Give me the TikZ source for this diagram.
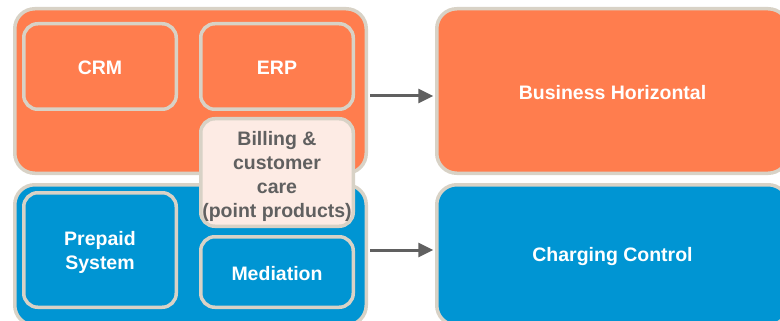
\documentclass[tikz,border=0pt]{standalone}
\usepackage{fontspec}
\setmainfont{Liberation Sans}
\usetikzlibrary{arrows.meta}
\definecolor{orng}{RGB}{255,125,78}
\definecolor{blu}{RGB}{0,149,211}
\definecolor{bord}{RGB}{216,210,198}
\definecolor{pale}{RGB}{253,235,228}
\definecolor{gry}{RGB}{96,96,96}
\tikzset{
  box/.style={draw=bord, line width=3.5pt, inner sep=0pt},
  bigorange/.style={box, fill=orng, rounded corners=20pt},
  bigblue/.style={box, fill=blu, rounded corners=20pt},
  inorange/.style={box, fill=orng, rounded corners=14pt},
  inblue/.style={box, fill=blu, rounded corners=14pt},
  inpale/.style={box, fill=pale, rounded corners=14pt},
  txt/.style={font=\bfseries\fontsize{19.5}{24}\selectfont, text=white, align=center, inner sep=0pt},
  conn/.style={draw=gry, line width=3pt, -{Triangle[length=15pt,width=14pt]}},
}
\begin{document}
\begin{tikzpicture}[x=1pt,y=-1pt]
\useasboundingbox (0,0) rectangle (780,321);
\clip (0,0) rectangle (780,321);
\node[bigorange, minimum width=351.5pt, minimum height=164.5pt] (hor) at (190.5,91) {};
\node[bigorange, minimum width=351.5pt, minimum height=164.5pt] (bh) at (612.5,91) {};
\node[bigblue, minimum width=351.5pt, minimum height=140.5pt] (vert) at (190.5,255) {};
\node[bigblue, minimum width=351.5pt, minimum height=140.5pt] (cc) at (612.5,255) {};
\node[inorange, minimum width=152.5pt, minimum height=85.5pt] (crm) at (100,66.5) {};
\node[inorange, minimum width=152.5pt, minimum height=85.5pt] (erp) at (277,66.5) {};
\node[inblue, minimum width=152.5pt, minimum height=114.5pt] (pre) at (100,250) {};
\node[inblue, minimum width=152.5pt, minimum height=70.5pt] (med) at (277,272) {};
\node[inpale, minimum width=152.5pt, minimum height=107.5pt] (bill) at (277,172.5) {};
\node[txt] (bhtxt) at ([yshift=-1.5pt]bh.center) {Business Horizontal};
\node[txt] (cctxt) at ([yshift=-2pt]cc.center) {Charging Control};
\node[txt] (crmtxt) at ([yshift=-1pt]crm.center) {CRM};
\node[txt] (erptxt) at ([yshift=-1pt]erp.center) {ERP};
\node[txt] (pretxt) at ([yshift=-2.5pt]pre.center) {Prepaid\\System};
\node[txt] (medtxt) at ([yshift=-2pt]med.center) {Mediation};
\node[txt, text=gry] (billtxt) at ([yshift=-3.5pt]bill.center) {Billing \&\\customer\\care\\(point products)};
\draw[conn, shorten <=1.75pt, shorten >=1.75pt] ([yshift=-5pt]hor.east) -- ([yshift=-5pt]bh.west);
\draw[conn, shorten <=1.75pt, shorten >=1.75pt] ([yshift=5pt]vert.east) -- ([yshift=5pt]cc.west);
\end{tikzpicture}
\end{document}
